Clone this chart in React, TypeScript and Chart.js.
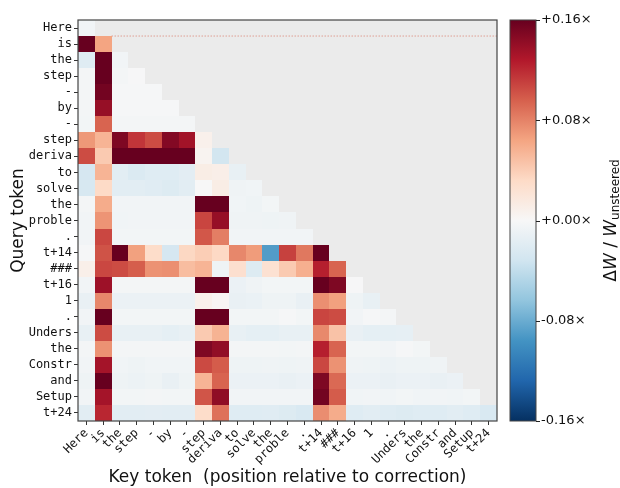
import React, { useEffect, useRef } from "react";
import { Chart, registerables } from "chart.js";
Chart.register(...registerables);

const tokens = ["Here", "is", "the", "step", "-", "by", "-", "step", "deriva", "to", "solve", "the", "proble", ".", "t+14", "###", "t+16", "1", ".", "Unders", "the", "Constr", "and", "Setup", "t+24"];

// Row values (query row, key columns 0..row)
const r00 = [-0.005];
const r01 = [0.16, 0.064];
const r02 = [-0.02, 0.16, -0.005];
const r03 = [-0.003, 0.16, -0.003, -0.001];
const r04 = [-0.003, 0.155, -0.002, -0.002, -0.002];
const r05 = [-0.003, 0.14, -0.002, -0.002, -0.002, -0.002];
const r06 = [-0.004, 0.094, -0.003, -0.003, -0.003, -0.003, -0.003];
const r07 = [0.07, 0.055, 0.15, 0.115, 0.105, 0.148, 0.135, 0.008];
const r08 = [0.105, 0.042, 0.16, 0.16, 0.16, 0.16, 0.16, 0.005, -0.03];
const r09 = [-0.028, 0.055, -0.018, -0.024, -0.02, -0.02, -0.017, 0.012, 0.01, -0.013];
const r10 = [-0.027, 0.032, -0.018, -0.018, -0.019, -0.022, -0.018, 0.0, 0.012, -0.007, -0.006];
const r11 = [-0.003, 0.06, -0.005, -0.005, -0.005, -0.005, -0.005, 0.16, 0.16, -0.006, -0.008, -0.004];
const r12 = [-0.005, 0.072, -0.006, -0.005, -0.005, -0.005, -0.005, 0.108, 0.14, -0.007, -0.007, -0.008, -0.007];
const r13 = [-0.005, 0.107, -0.004, -0.004, -0.004, -0.004, -0.004, 0.1, 0.082, -0.005, -0.005, -0.005, -0.005, -0.005];
const r14 = [-0.002, 0.102, 0.16, 0.066, 0.03, -0.028, 0.034, 0.04, 0.033, 0.078, 0.068, -0.09, 0.11, 0.085, 0.16];
const r15 = [0.009, 0.107, 0.105, 0.097, 0.073, 0.074, 0.05, 0.055, -0.008, 0.027, -0.022, 0.025, 0.042, 0.058, 0.125, 0.094];
const r16 = [-0.005, 0.137, -0.003, -0.003, -0.003, -0.003, -0.003, 0.16, 0.16, -0.01, -0.007, -0.004, -0.004, -0.004, 0.16, 0.15, -0.001];
const r17 = [-0.012, 0.078, -0.01, -0.01, -0.01, -0.01, -0.01, 0.008, 0.003, -0.012, -0.011, -0.008, -0.008, -0.012, 0.074, 0.066, -0.008, -0.013];
const r18 = [-0.005, 0.16, -0.004, -0.004, -0.004, -0.004, -0.004, 0.16, 0.16, -0.004, -0.004, -0.004, -0.002, -0.004, 0.108, 0.105, -0.005, -0.002, -0.003];
const r19 = [-0.013, 0.105, -0.013, -0.013, -0.013, -0.015, -0.013, 0.042, 0.056, -0.013, -0.015, -0.015, -0.013, -0.013, 0.077, 0.047, -0.012, -0.015, -0.015, -0.014];
const r20 = [-0.003, 0.073, -0.003, -0.003, -0.003, -0.003, -0.003, 0.15, 0.142, -0.003, -0.003, -0.003, -0.004, -0.003, 0.125, 0.094, -0.004, -0.004, -0.005, -0.002, -0.004];
const r21 = [-0.005, 0.134, -0.006, -0.008, -0.006, -0.006, -0.006, 0.106, 0.098, -0.008, -0.008, -0.007, -0.008, -0.007, 0.107, 0.073, -0.007, -0.008, -0.009, -0.008, -0.008, -0.007];
const r22 = [-0.008, 0.16, -0.008, -0.009, -0.008, -0.012, -0.008, 0.055, 0.094, -0.01, -0.01, -0.01, -0.012, -0.01, 0.15, 0.092, -0.01, -0.01, -0.012, -0.01, -0.01, -0.012, -0.01];
const r23 = [-0.005, 0.134, -0.004, -0.004, -0.003, -0.004, -0.004, 0.101, 0.143, -0.005, -0.005, -0.005, -0.005, -0.005, 0.155, 0.098, -0.006, -0.005, -0.006, -0.004, -0.006, -0.005, -0.006, -0.004];
const r24 = [-0.018, 0.122, -0.018, -0.018, -0.017, -0.018, -0.018, 0.03, 0.088, -0.02, -0.02, -0.019, -0.022, -0.025, 0.075, 0.06, -0.02, -0.018, -0.02, -0.022, -0.02, -0.02, -0.018, -0.02, -0.025];

const rows = [r00, r01, r02, r03, r04, r05, r06, r07, r08, r09, r10, r11, r12, r13, r14, r15, r16, r17, r18, r19, r20, r21, r22, r23, r24];

const cbTicks = [-0.16, -0.08, 0, 0.08, 0.16];
const vMin = -0.16;
const vMax = 0.16;
const rdbuR = ["#053061", "#2166ac", "#4393c3", "#92c5de", "#d1e5f0", "#f7f7f7", "#fddbc7", "#f4a582", "#d6604d", "#b2182b", "#67001f"];

function hexToRgb(h: string) {
  const n = parseInt(h.slice(1), 16);
  return [(n >> 16) & 255, (n >> 8) & 255, n & 255];
}
function cmap(v: number) {
  let t = (v - vMin) / (vMax - vMin);
  t = Math.max(0, Math.min(1, t));
  const s = t * 10;
  const i = Math.min(9, Math.floor(s));
  const f = s - i;
  const a = hexToRgb(rdbuR[i]);
  const b = hexToRgb(rdbuR[i + 1]);
  const c = a.map((x, k) => Math.round(x + (b[k] - x) * f));
  return `rgb(${c[0]},${c[1]},${c[2]})`;
}

const cells: { x: number; y: number; v: number }[] = [];
rows.forEach((row, r) => row.forEach((v, c) => cells.push({ x: c, y: r, v })));

const heatPlugin = {
  id: "heat",
  beforeDatasetsDraw(chart: any) {
    const { ctx, chartArea } = chart;
    const xs = chart.scales.x;
    const ys = chart.scales.y;
    ctx.save();
    ctx.fillStyle = "#ebebeb";
    ctx.fillRect(chartArea.left, chartArea.top, chartArea.right - chartArea.left, chartArea.bottom - chartArea.top);
    // dotted guide line below first row
    const ly = ys.getPixelForValue(0.5);
    ctx.strokeStyle = "rgba(214,96,77,0.55)";
    ctx.lineWidth = 1;
    ctx.setLineDash([1.5, 1.5]);
    ctx.beginPath();
    ctx.moveTo(xs.getPixelForValue(1.5), ly);
    ctx.lineTo(chartArea.right, ly);
    ctx.stroke();
    ctx.setLineDash([]);
    const data = chart.data.datasets[0].data as any[];
    for (const p of data) {
      const x0 = Math.round(xs.getPixelForValue(p.x - 0.5));
      const x1 = Math.round(xs.getPixelForValue(p.x + 0.5));
      const yA = Math.round(ys.getPixelForValue(p.y - 0.5));
      const yB = Math.round(ys.getPixelForValue(p.y + 0.5));
      ctx.fillStyle = cmap(p.v);
      ctx.fillRect(x0, Math.min(yA, yB), x1 - x0, Math.abs(yB - yA));
    }
    ctx.restore();
  },
  afterDraw(chart: any) {
    const { ctx, chartArea } = chart;
    ctx.save();
    ctx.strokeStyle = "#444";
    ctx.lineWidth = 1.2;
    ctx.strokeRect(chartArea.left, chartArea.top, chartArea.right - chartArea.left, chartArea.bottom - chartArea.top);
    // colorbar
    const cb = chart.scales.cb;
    const top = cb.getPixelForValue(vMax);
    const bot = cb.getPixelForValue(vMin);
    const bx0 = cb.left + 13;
    const bx1 = cb.left + 39;
    const g = ctx.createLinearGradient(0, bot, 0, top);
    rdbuR.forEach((c, i) => g.addColorStop(i / 10, c));
    ctx.fillStyle = g;
    ctx.fillRect(bx0, top, bx1 - bx0, bot - top);
    ctx.strokeStyle = "#444";
    ctx.lineWidth = 1;
    ctx.strokeRect(bx0, top, bx1 - bx0, bot - top);
    ctx.strokeStyle = "#222";
    for (const t of cbTicks) {
      const y = Math.round(cb.getPixelForValue(t)) + 0.5;
      ctx.beginPath();
      ctx.moveTo(bx1, y);
      ctx.lineTo(bx1 + 4, y);
      ctx.stroke();
    }
    // colorbar label
    const parts = [
      { t: "\u0394", f: "17px 'DejaVu Sans'", dy: 0 },
      { t: "W", f: "italic 17px 'DejaVu Sans'", dy: 0 },
      { t: " / ", f: "17px 'DejaVu Sans'", dy: 0 },
      { t: "W", f: "italic 17px 'DejaVu Sans'", dy: 0 },
      { t: "unsteered", f: "12px 'DejaVu Sans'", dy: 3 },
    ];
    let total = 0;
    const widths = parts.map((p) => {
      ctx.font = p.f;
      const w = ctx.measureText(p.t).width;
      total += w;
      return w;
    });
    ctx.translate(616, (top + bot) / 2);
    ctx.rotate(-Math.PI / 2);
    ctx.fillStyle = "#111";
    ctx.textBaseline = "alphabetic";
    ctx.textAlign = "left";
    let xx = -total / 2;
    parts.forEach((p, i) => {
      ctx.font = p.f;
      ctx.fillText(p.t, xx, p.dy);
      xx += widths[i];
    });
    ctx.restore();
  },
};

const tickIdx = tokens.map((_, i) => ({ value: i }));

export default function App() {
  const ref = useRef<HTMLCanvasElement>(null);
  useEffect(() => {
    if (!ref.current) return;
    const chart = new Chart(ref.current, {
      type: "scatter",
      data: { datasets: [{ data: cells as any, pointRadius: 0, pointHoverRadius: 0 }] },
      options: {
        animation: false,
        responsive: false,
        events: [],
        layout: { padding: { left: 0, right: 0, top: 20, bottom: 0 } },
        plugins: { legend: { display: false }, tooltip: { enabled: false } },
        scales: {
          x: {
            type: "linear",
            position: "bottom",
            min: -0.5,
            max: 24.5,
            afterBuildTicks: (ax: any) => { ax.ticks = tickIdx.map((t) => ({ ...t })); },
            afterFit: (ax: any) => { ax.height = 67; },
            ticks: {
              autoSkip: false,
              minRotation: 45,
              maxRotation: 45,
              padding: 1,
              color: "#111",
              font: { family: "'DejaVu Sans Mono'", size: 12 },
              callback: (v: any) => tokens[Math.round(Number(v))] ?? "",
            },
            grid: { drawOnChartArea: false, drawTicks: true, tickLength: 4, color: "#333" },
            border: { display: false },
            title: {
              display: true,
              text: "Key token  (position relative to correction)",
              color: "#111",
              font: { family: "'DejaVu Sans'", size: 17 },
              padding: { top: 0, bottom: 0 },
            },
          },
          y: {
            type: "linear",
            position: "left",
            reverse: true,
            min: -0.5,
            max: 24.5,
            afterBuildTicks: (ax: any) => { ax.ticks = tickIdx.map((t) => ({ ...t })); },
            afterFit: (ax: any) => { ax.width = 78; },
            ticks: {
              autoSkip: false,
              padding: 2,
              color: "#111",
              font: { family: "'DejaVu Sans Mono'", size: 12 },
              callback: (v: any) => tokens[Math.round(Number(v))] ?? "",
            },
            grid: { drawOnChartArea: false, drawTicks: true, tickLength: 4, color: "#333" },
            border: { display: false },
            title: {
              display: true,
              text: "Query token",
              color: "#111",
              font: { family: "'DejaVu Sans'", size: 17 },
              padding: { top: 8, bottom: 0 },
            },
          },
          cb: {
            type: "linear",
            position: "right",
            min: vMin,
            max: vMax,
            afterBuildTicks: (ax: any) => { ax.ticks = cbTicks.map((v) => ({ value: v })); },
            afterFit: (ax: any) => { ax.width = 123; },
            ticks: {
              padding: 0,
              color: "#111",
              font: { family: "'DejaVu Sans'", size: 13 },
              callback: (v: any) => {
                const n = Number(v);
                const s = Math.abs(n).toFixed(2);
                return (n < 0 ? "-" : "+") + s + "\u00d7";
              },
            },
            grid: { display: false, drawTicks: true, tickLength: 44, drawOnChartArea: false },
            border: { display: false },
          },
        },
      } as any,
      plugins: [heatPlugin],
    });
    return () => chart.destroy();
  }, []);
  return (
    <div style={{ position: "absolute", left: 0, top: 0, width: 620, height: 488 }}>
      <canvas ref={ref} width={620} height={488} style={{ display: "block" }} />
    </div>
  );
}
